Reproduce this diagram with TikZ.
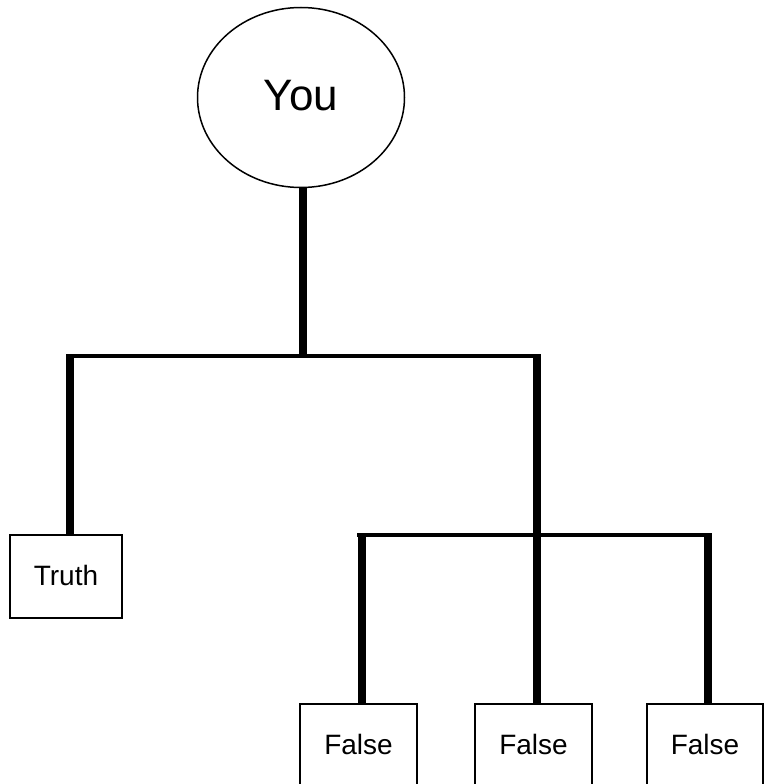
\documentclass[tikz,border=0pt]{standalone}
\usepackage{fontspec}
\setmainfont{Liberation Sans}
\usetikzlibrary{shapes.geometric}
\tikzset{
  x=1pt, y=1pt,
  leaf/.style={draw, line width=1.3pt, minimum width=112pt, minimum height=83pt, inner sep=0pt, font=\fontsize{28}{30}\selectfont},
  root/.style={draw, ellipse, line width=1.5pt, minimum width=207pt, minimum height=180pt, inner sep=0pt, font=\fontsize{44}{46}\selectfont},
  stem/.style={line width=8pt},
  bar/.style={line width=4pt}
}
\begin{document}
\begin{tikzpicture}
\useasboundingbox (0,0) rectangle (770,-784);
\node[root] (you) at (301,-97.5) {\raisebox{5pt}{You}};
\node[leaf] (truth) at (66,-576.5) {\raisebox{1.5pt}{Truth}};
\node[leaf, minimum width=117pt] (f1) at (358.5,-745.5) {\raisebox{3pt}{False}};
\node[leaf, minimum width=117pt] (f2) at (533.5,-745.5) {\raisebox{3pt}{False}};
\node[leaf, minimum width=116pt] (f3) at (705,-745.5) {\raisebox{3pt}{False}};
\coordinate (j1) at (303,-356);
\coordinate (h1L) at (66,-356);
\coordinate (h1R) at (541,-356);
\coordinate (t1) at (70,-356);
\coordinate (t2) at (537,-356);
\coordinate (h2L) at (357,-535);
\coordinate (h2R) at (712,-535);
\coordinate (s1) at (362,-535);
\coordinate (s3) at (708,-535);
\draw[stem] (you.south -| j1) -- (j1);
\draw[bar] (h1L) -- (h1R);
\draw[stem] (t1) -- (t1 |- truth.north);
\draw[stem] (t2) -- (t2 |- f2.north);
\draw[bar] (h2L) -- (h2R);
\draw[stem] (s1) -- (s1 |- f1.north);
\draw[stem] (s3) -- (s3 |- f3.north);
\end{tikzpicture}
\end{document}
